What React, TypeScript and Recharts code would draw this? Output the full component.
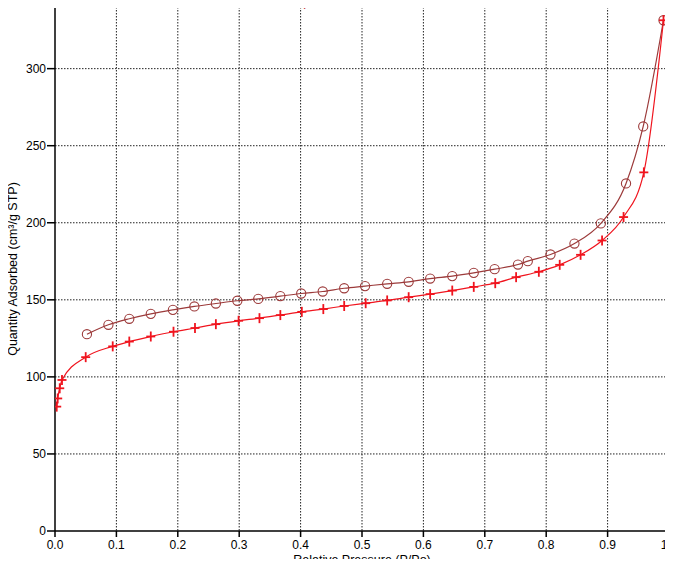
import { LineChart, Line, XAxis, YAxis, CartesianGrid } from "recharts";

// Adsorption branch (+ markers)
const adsP = [0.0028, 0.0044, 0.0077, 0.0114, 0.050, 0.094, 0.121, 0.156, 0.193, 0.228, 0.262, 0.299, 0.333, 0.367, 0.402, 0.437, 0.471, 0.506, 0.541, 0.576, 0.611, 0.647, 0.682, 0.717, 0.751, 0.788, 0.822, 0.856, 0.891, 0.926, 0.959, 0.991];
const adsQ = [80.7, 86.0, 92.6, 98.0, 112.8, 119.8, 122.9, 126.2, 129.3, 131.7, 134.2, 136.4, 138.1, 140.1, 142.2, 144.0, 146.0, 147.8, 149.6, 151.7, 153.7, 156.0, 158.4, 160.8, 164.7, 168.2, 172.7, 179.2, 188.5, 203.7, 232.7, 331.4];

// Desorption branch (o markers)
const desP = [0.991, 0.958, 0.930, 0.889, 0.846, 0.807, 0.770, 0.754, 0.716, 0.682, 0.647, 0.611, 0.576, 0.541, 0.505, 0.471, 0.436, 0.401, 0.367, 0.331, 0.297, 0.262, 0.227, 0.192, 0.156, 0.121, 0.087, 0.052];
const desQ = [331.4, 262.5, 225.5, 199.6, 186.5, 179.4, 175.1, 172.9, 169.9, 167.5, 165.4, 163.8, 161.7, 160.4, 158.9, 157.5, 155.4, 154.1, 152.4, 150.6, 149.4, 147.6, 145.7, 143.5, 140.9, 137.7, 133.8, 127.7];

const xMajor = [0, 0.1, 0.2, 0.3, 0.4, 0.5, 0.6, 0.7, 0.8, 0.9, 1.0];
const xMinor = Array.from({ length: 51 }, (_, i) => i * 0.02);
const yMajor = [0, 50, 100, 150, 200, 250, 300];
const yMinor = Array.from({ length: 35 }, (_, i) => i * 10);

const legendName = "20140703-COF-CN-140702-all - Desorption";

const adsData = adsP.map((p, i) => ({ p, q: adsQ[i] }));
const desData = desP.map((p, i) => ({ p, q: desQ[i] }));

const ADS = "#f0141e";
const DES = "#9c3a3a";
const FONT = "'Liberation Sans', Arial, sans-serif";

const Cross = (props: any) => {
  const { cx, cy } = props;
  if (cx == null || cy == null) return null;
  return (
    <g stroke={ADS} strokeWidth={1.8}>
      <line x1={cx - 4.5} y1={cy} x2={cx + 4.5} y2={cy} />
      <line x1={cx} y1={cy - 5} x2={cx} y2={cy + 5} />
    </g>
  );
};

const Ring = (props: any) => {
  const { cx, cy } = props;
  if (cx == null || cy == null) return null;
  return <circle cx={cx} cy={cy} r={4.6} fill="none" stroke={DES} strokeWidth={1.1} />;
};

export default function App() {
  return (
    <div style={{ margin: -8, position: "relative", width: 673, height: 567, background: "#fff", fontFamily: FONT }}>
      <LineChart width={673} height={567} margin={{ top: 7, right: 4, left: 0, bottom: 0 }}>
        <CartesianGrid
          xAxisId="x"
          yAxisId="y"
          stroke="#222"
          strokeDasharray="1.5 1.5"
          strokeWidth={1}
          horizontalValues={[50, 100, 150, 200, 250, 300]}
          verticalValues={[0.1, 0.2, 0.3, 0.4, 0.5, 0.6, 0.7, 0.8, 0.9]}
        />
        <XAxis
          xAxisId="x"
          dataKey="p"
          type="number"
          domain={[0, 1]}
          ticks={xMajor}
          tickFormatter={(v: number) => v.toFixed(1)}
          allowDataOverflow
          height={36}
          tickSize={6}
          tickMargin={3}
          stroke="#000"
          strokeWidth={1.5}
          tick={{ fill: "#000", fontSize: 12, fontFamily: FONT }}
          interval={0}
          label={{ value: "Relative Pressure (P/Po)", position: "insideBottom", offset: 3, fill: "#000", fontSize: 12.5, fontFamily: FONT }}
        />
        <XAxis
          xAxisId="xm"
          dataKey="p"
          type="number"
          domain={[0, 1]}
          ticks={xMinor}
          interval={0}
          height={0}
          tickSize={4}
          tick={false}
          axisLine={false}
          stroke="#000"
        />
        <XAxis xAxisId="top" orientation="top" type="number" domain={[0, 1]} height={0} tick={false} tickLine={false} stroke="#000" strokeWidth={1.2} />
        <YAxis
          yAxisId="ym"
          type="number"
          domain={[0, 340]}
          ticks={yMinor}
          interval={0}
          width={0}
          tickSize={4}
          tick={false}
          axisLine={false}
          stroke="#000"
        />
        <YAxis
          yAxisId="y"
          type="number"
          domain={[0, 340]}
          ticks={yMajor}
          interval={0}
          allowDataOverflow
          width={55}
          tickSize={8}
          tickMargin={1}
          stroke="#000"
          strokeWidth={1.5}
          tick={{ fill: "#000", fontSize: 12, fontFamily: FONT }}
          label={{ value: "Quantity Adsorbed (cm³/g STP)", angle: -90, position: "insideLeft", offset: 13, fill: "#000", fontSize: 12.5, fontFamily: FONT, style: { textAnchor: "middle" } }}
        />
        <YAxis yAxisId="right" orientation="right" type="number" domain={[0, 340]} width={0} tick={false} tickLine={false} stroke="#000" strokeWidth={1.2} />
        <Line
          xAxisId="x"
          yAxisId="y"
          data={desData}
          dataKey="q"
          type="monotone"
          stroke={DES}
          strokeWidth={1.2}
          dot={<Ring />}
          isAnimationActive={false}
        />
        <Line
          xAxisId="x"
          yAxisId="y"
          data={adsData}
          dataKey="q"
          type="monotone"
          stroke={ADS}
          strokeWidth={1.2}
          dot={<Cross />}
          isAnimationActive={false}
        />
        {/* legend entry above the frame, mostly off the top edge as in the source */}
        <g>
          <line x1={52} y1={1} x2={80} y2={1} stroke={DES} strokeWidth={1.2} />
          <circle cx={66} cy={1} r={4.6} fill="none" stroke={DES} strokeWidth={1.1} />
          <text x={88} y={6} fontSize={12.5} fill="#c0282d" fontFamily={FONT}>
            {legendName}
          </text>
        </g>
      </LineChart>
    </div>
  );
}
